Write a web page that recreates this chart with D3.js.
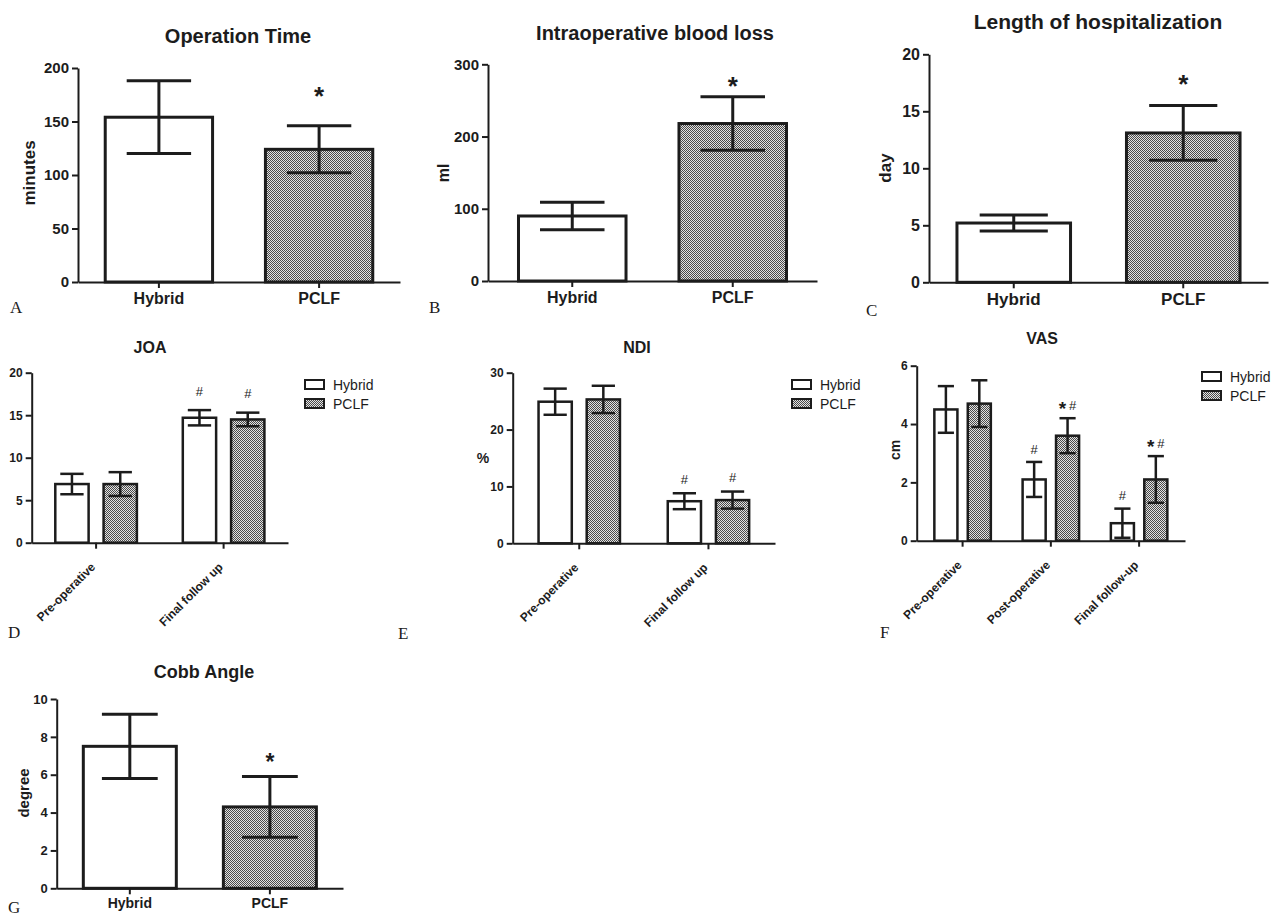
<!DOCTYPE html>
<html>
<head>
<meta charset="utf-8">
<script src="https://cdn.jsdelivr.net/npm/d3@7"></script>
<style>
  body { margin: 0; background: #fff; }
</style>
</head>
<body>
<svg id="fig" width="1281" height="916"></svg>
<script>
// ---------- data ----------
const groups = ["Hybrid", "PCLF"];

const opTime = [154, 124];
const opTimeSD = [34, 22];
const opTimeMarks = ["", "*"];
const opTimeTicks = [0, 50, 100, 150, 200];

const bloodLoss = [90, 218];
const bloodLossSD = [19, 37];
const bloodLossMarks = ["", "*"];
const bloodLossTicks = [0, 100, 200, 300];

const hospDays = [5.2, 13.1];
const hospDaysSD = [0.7, 2.4];
const hospDaysMarks = ["", "*"];
const hospDaysTicks = [0, 5, 10, 15, 20];

const cobbAngle = [7.5, 4.3];
const cobbAngleSD = [1.7, 1.6];
const cobbAngleMarks = ["", "*"];
const cobbAngleTicks = [0, 2, 4, 6, 8, 10];

const stages2 = ["Pre-operative", "Final follow up"];
const joaHybrid = [6.9, 14.7], joaHybridSD = [1.2, 0.9];
const joaPCLF = [6.9, 14.5], joaPCLFSD = [1.4, 0.8];
const joaMarksHybrid = ["", "#"], joaMarksPCLF = ["", "#"];
const joaTicks = [0, 5, 10, 15, 20];

const ndiHybrid = [24.9, 7.4], ndiHybridSD = [2.3, 1.4];
const ndiPCLF = [25.3, 7.6], ndiPCLFSD = [2.4, 1.5];
const ndiMarksHybrid = ["", "#"], ndiMarksPCLF = ["", "#"];
const ndiTicks = [0, 10, 20, 30];

const stages3 = ["Pre-operative", "Post-operative", "Final follow-up"];
const vasHybrid = [4.5, 2.1, 0.6], vasHybridSD = [0.8, 0.6, 0.5];
const vasPCLF = [4.7, 3.6, 2.1], vasPCLFSD = [0.8, 0.6, 0.8];
const vasMarksHybrid = ["", "#", "#"], vasMarksPCLF = ["", "* #", "* #"];
const vasTicks = [0, 2, 4, 6];

// ---------- setup ----------
const FONT = "'Liberation Sans', Arial, Helvetica, sans-serif";
const SERIF = "'Liberation Serif', 'Times New Roman', serif";
const ink = "#1c1c1c";
const fills = ["#ffffff", "url(#checks)"];

const svg = d3.select("#fig");

// fine checkerboard used for the PCLF bars
const pat = svg.append("defs").append("pattern")
  .attr("id", "checks")
  .attr("width", 2).attr("height", 2)
  .attr("patternUnits", "userSpaceOnUse");
pat.append("rect").attr("width", 2).attr("height", 2).attr("fill", "#e2e2e2");
pat.append("rect").attr("width", 1).attr("height", 1).attr("fill", "#4a4a4a");
pat.append("rect").attr("x", 1).attr("y", 1).attr("width", 1).attr("height", 1).attr("fill", "#4a4a4a");

function styleAxis(ax, L, fs) {
  ax.attr("font-family", FONT).attr("font-size", fs).attr("font-weight", "bold");
  ax.select(".domain").attr("stroke", ink).attr("stroke-width", L.axisW);
  ax.selectAll(".tick line").attr("stroke", ink).attr("stroke-width", L.axisW);
  ax.selectAll(".tick text").attr("fill", ink);
}

function yAxis(g, y, L) {
  const ax = g.append("g")
    .attr("transform", `translate(${L.x0},0)`)
    .call(d3.axisLeft(y).tickValues(L.ticks).tickFormat(d3.format("d"))
      .tickSize(6).tickSizeOuter(0).tickPadding(3));
  styleAxis(ax, L, L.tickFs);
}

function titles(g, L) {
  g.append("text")
    .attr("x", L.tx).attr("y", L.ty)
    .attr("text-anchor", "middle")
    .attr("font-family", FONT).attr("font-weight", "bold")
    .attr("font-size", L.titleFs).attr("fill", ink)
    .text(L.title);

  if (L.ylabel) {
    g.append("text")
      .attr("transform", L.upright ? `translate(${L.lx},${L.ly})` : `translate(${L.lx},${L.ly}) rotate(-90)`)
      .attr("text-anchor", "middle")
      .attr("dominant-baseline", "central")
      .attr("font-family", FONT).attr("font-weight", "bold")
      .attr("font-size", L.labelFs).attr("fill", ink)
      .text(L.ylabel);
  }

  g.append("text")
    .attr("x", L.ax).attr("y", L.ay)
    .attr("font-family", SERIF).attr("font-size", 17).attr("fill", ink)
    .text(L.letter);
}

function errorBar(g, cx, y, v, sd, capW, w) {
  const top = y(v + sd), bot = y(v - sd);
  const e = g.append("g").attr("stroke", ink).attr("stroke-width", w).attr("fill", "none");
  e.append("line").attr("x1", cx).attr("x2", cx).attr("y1", top).attr("y2", bot);
  e.append("line").attr("x1", cx - capW / 2).attr("x2", cx + capW / 2).attr("y1", top).attr("y2", top);
  e.append("line").attr("x1", cx - capW / 2).attr("x2", cx + capW / 2).attr("y1", bot).attr("y2", bot);
}

// significance marks: "*" and/or "#", centred gap px above the error cap
function mark(g, cx, yTop, txt, L) {
  if (!txt) return;
  const parts = txt.split(" ");
  const cy = yTop - L.markGap;
  parts.forEach((s, i) => {
    const star = s === "*";
    const fs = star ? L.starFs : L.hashFs;
    const dx = parts.length > 1 ? (i === 0 ? -5 : 5) : 0;
    g.append("text")
      .attr("x", cx + dx)
      .attr("y", cy + fs * (star ? 0.52 : 0.36))
      .attr("text-anchor", "middle")
      .attr("font-family", FONT)
      .attr("font-weight", star ? "bold" : "normal")
      .attr("font-size", fs).attr("fill", ink)
      .text(s);
  });
}

// ---------- two-bar panels ----------
function simplePanel(L, values, sds, marks) {
  const g = svg.append("g");
  const x = d3.scaleBand().domain(groups).range([L.x0, L.x1])
    .paddingInner(L.padIn).paddingOuter(L.padOut);
  const y = d3.scaleLinear().domain([0, L.max]).range([L.yb, L.yt]);

  g.selectAll("rect.bar")
    .data(groups)
    .join("rect")
    .attr("class", "bar")
    .attr("x", d => x(d))
    .attr("y", (d, i) => y(values[i]))
    .attr("width", x.bandwidth())
    .attr("height", (d, i) => y(0) - y(values[i]))
    .attr("fill", (d, i) => fills[i])
    .attr("stroke", ink)
    .attr("stroke-width", L.barW);

  groups.forEach((d, i) => {
    const cx = x(d) + x.bandwidth() / 2;
    errorBar(g, cx, y, values[i], sds[i], x.bandwidth() * L.cap, L.errW);
    mark(g, cx, y(values[i] + sds[i]), marks[i], L);
  });

  const xa = g.append("g")
    .attr("transform", `translate(0,${L.yb})`)
    .call(d3.axisBottom(x).tickSize(6).tickSizeOuter(0).tickPadding(L.xPad));
  styleAxis(xa, L, L.xFs);
  yAxis(g, y, L);
  titles(g, L);
}

// ---------- grouped panels ----------
function groupedPanel(L, stages, series, sdsList, marksList) {
  const g = svg.append("g");
  const x = d3.scaleBand().domain(stages).range([L.x0, L.x1])
    .paddingInner(L.padIn).paddingOuter(L.padOut);
  const xi = d3.scaleBand().domain(groups).range([0, x.bandwidth()]).paddingInner(L.innerPad);
  const y = d3.scaleLinear().domain([0, L.max]).range([L.yb, L.yt]);

  groups.forEach((grp, gi) => {
    const vals = series[gi], sds = sdsList[gi], mks = marksList[gi];
    g.append("g").selectAll("rect")
      .data(stages)
      .join("rect")
      .attr("x", d => x(d) + xi(grp))
      .attr("y", (d, i) => y(vals[i]))
      .attr("width", xi.bandwidth())
      .attr("height", (d, i) => y(0) - y(vals[i]))
      .attr("fill", fills[gi])
      .attr("stroke", ink)
      .attr("stroke-width", L.barW);
    stages.forEach((d, i) => {
      const cx = x(d) + xi(grp) + xi.bandwidth() / 2;
      errorBar(g, cx, y, vals[i], sds[i], xi.bandwidth() * L.cap, L.errW);
      mark(g, cx, y(vals[i] + sds[i]), mks[i], L);
    });
  });

  const xa = g.append("g")
    .attr("transform", `translate(0,${L.yb})`)
    .call(d3.axisBottom(x).tickSize(6).tickSizeOuter(0));
  styleAxis(xa, L, L.xFs);
  xa.selectAll(".tick text")
    .attr("y", 0).attr("dy", null)
    .attr("transform", "translate(0,25) rotate(-45)")
    .attr("text-anchor", "end");
  yAxis(g, y, L);
  titles(g, L);

  // legend
  const lg = g.append("g").attr("transform", `translate(${L.legX},${L.legY})`);
  groups.forEach((grp, i) => {
    lg.append("rect")
      .attr("x", 0).attr("y", i * 19)
      .attr("width", 19).attr("height", 9)
      .attr("fill", fills[i]).attr("stroke", ink).attr("stroke-width", 2);
    lg.append("text")
      .attr("x", 28).attr("y", i * 19 + 4.5)
      .attr("dominant-baseline", "central")
      .attr("font-family", FONT).attr("font-size", 14).attr("fill", ink)
      .text(grp);
  });
}

// ---------- layout ----------
const big = { axisW: 2, barW: 3, errW: 3, cap: 0.6, padIn: 0.33, padOut: 0.17, starFs: 26, hashFs: 14, xPad: 5 };
const small = { axisW: 2, barW: 2.5, errW: 2.5, cap: 0.7, tickFs: 12, xFs: 12, titleFs: 16, labelFs: 14, starFs: 19, hashFs: 13 };

simplePanel(Object.assign({}, big, {
  x0: 78, x1: 400, yt: 68, yb: 282, max: 200, ticks: opTimeTicks,
  title: "Operation Time", tx: 238, ty: 43, titleFs: 20,
  ylabel: "minutes", lx: 29, ly: 173, labelFs: 17,
  tickFs: 15, xFs: 16, letter: "A", ax: 10, ay: 313, markGap: 34
}), opTime, opTimeSD, opTimeMarks);

simplePanel(Object.assign({}, big, {
  x0: 488, x1: 817, yt: 64.3, yb: 281, max: 300, ticks: bloodLossTicks,
  padOut: 0.19,
  title: "Intraoperative blood loss", tx: 655, ty: 40, titleFs: 20,
  ylabel: "ml", lx: 443, ly: 173, labelFs: 16,
  tickFs: 15, xFs: 16, letter: "B", ax: 429, ay: 313, markGap: 15
}), bloodLoss, bloodLossSD, bloodLossMarks);

simplePanel(Object.assign({}, big, {
  x0: 929, x1: 1268, yt: 54.3, yb: 282.3, max: 20, ticks: hospDaysTicks,
  padOut: 0.165,
  title: "Length of hospitalization", tx: 1098, ty: 29, titleFs: 21,
  ylabel: "day", lx: 885, ly: 168, labelFs: 17,
  tickFs: 16, xFs: 17, letter: "C", ax: 866, ay: 316, markGap: 26
}), hospDays, hospDaysSD, hospDaysMarks);

simplePanel(Object.assign({}, big, {
  x0: 56.7, x1: 343, yt: 699, yb: 888.3, max: 10, ticks: cobbAngleTicks,
  padIn: 0.336, padOut: 0.19,
  title: "Cobb Angle", tx: 204, ty: 678, titleFs: 18,
  ylabel: "degree", lx: 23, ly: 793, labelFs: 15,
  tickFs: 13, xFs: 14, xPad: 4, letter: "G", ax: 8, ay: 913, markGap: 19, starFs: 23
}), cobbAngle, cobbAngleSD, cobbAngleMarks);

groupedPanel(Object.assign({}, small, {
  x0: 31.7, x1: 288, yt: 372.7, yb: 542.7, max: 20, ticks: joaTicks,
  padIn: 0.36, padOut: 0.185, innerPad: 0.31,
  title: "JOA", tx: 150, ty: 353,
  letter: "D", ax: 8, ay: 638, legX: 305, legY: 380, markGap: 19
}), stages2, [joaHybrid, joaPCLF], [joaHybridSD, joaPCLFSD], [joaMarksHybrid, joaMarksPCLF]);

groupedPanel(Object.assign({}, small, {
  x0: 512.7, x1: 775, yt: 372.7, yb: 543.3, max: 30, ticks: ndiTicks,
  padIn: 0.37, padOut: 0.2, innerPad: 0.31,
  title: "NDI", tx: 637, ty: 353,
  ylabel: "%", upright: true, lx: 483, ly: 458,
  letter: "E", ax: 398, ay: 639, legX: 792, legY: 380, markGap: 14
}), stages2, [ndiHybrid, ndiPCLF], [ndiHybridSD, ndiPCLFSD], [ndiMarksHybrid, ndiMarksPCLF]);

groupedPanel(Object.assign({}, small, {
  x0: 916.7, x1: 1185, yt: 365.7, yb: 540.7, max: 6, ticks: vasTicks,
  padIn: 0.36, padOut: 0.2, innerPad: 0.31,
  title: "VAS", tx: 1042, ty: 344,
  ylabel: "cm", lx: 895, ly: 450,
  letter: "F", ax: 880, ay: 638, legX: 1202, legY: 372, markGap: 13
}), stages3, [vasHybrid, vasPCLF], [vasHybridSD, vasPCLFSD], [vasMarksHybrid, vasMarksPCLF]);
</script>
</body>
</html>
